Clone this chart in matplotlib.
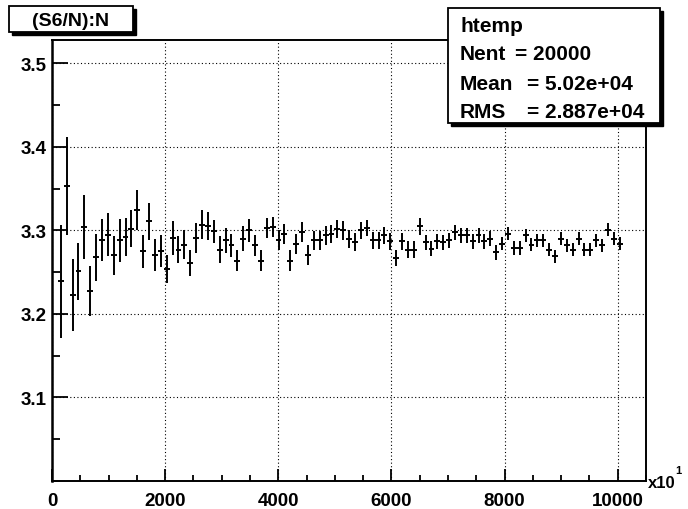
import numpy as np
import matplotlib
matplotlib.use("Agg")
import matplotlib.pyplot as plt
from matplotlib.patches import Rectangle
from matplotlib.ticker import MultipleLocator

plt.rcParams['font.family'] = ['Liberation Sans', 'DejaVu Sans']
plt.rcParams['font.weight'] = 'bold'

# profile bins (N, in units of x10^1)
bin_width = 104
bin_index = np.arange(1, 97)

s6_mean = [3.239, 3.353, 3.223, 3.251, 3.304, 3.228, 3.268, 3.289, 3.295, 3.270,
           3.288, 3.292, 3.302, 3.325, 3.275, 3.311, 3.271, 3.275, 3.254, 3.291,
           3.277, 3.283, 3.261, 3.291, 3.307, 3.305, 3.299, 3.277, 3.288, 3.282,
           3.264, 3.290, 3.300, 3.282, 3.264, 3.303, 3.304, 3.289, 3.296, 3.264,
           3.284, 3.298, 3.271, 3.288, 3.288, 3.294, 3.296, 3.302, 3.300, 3.290,
           3.286, 3.300, 3.303, 3.288, 3.288, 3.294, 3.287, 3.267, 3.287, 3.277,
           3.277, 3.305, 3.286, 3.278, 3.287, 3.286, 3.288, 3.298, 3.294, 3.294,
           3.287, 3.294, 3.287, 3.290, 3.274, 3.284, 3.296, 3.279, 3.279, 3.294,
           3.283, 3.288, 3.288, 3.277, 3.269, 3.290, 3.282, 3.277, 3.290, 3.277,
           3.277, 3.288, 3.282, 3.301, 3.290, 3.284]

s6_err = [0.068, 0.059, 0.043, 0.034, 0.038, 0.030, 0.028, 0.025, 0.026, 0.023,
          0.026, 0.023, 0.022, 0.024, 0.020, 0.022, 0.019, 0.019, 0.017, 0.020,
          0.016, 0.017, 0.016, 0.018, 0.017, 0.017, 0.014, 0.016, 0.015, 0.014,
          0.013, 0.015, 0.014, 0.013, 0.013, 0.012, 0.012, 0.012, 0.012, 0.013,
          0.012, 0.012, 0.012, 0.011, 0.011, 0.011, 0.011, 0.011, 0.011, 0.011,
          0.011, 0.010, 0.010, 0.010, 0.010, 0.010, 0.010, 0.010, 0.010, 0.010,
          0.010, 0.010, 0.009, 0.009, 0.009, 0.009, 0.009, 0.009, 0.009, 0.009,
          0.009, 0.009, 0.009, 0.009, 0.009, 0.008, 0.008, 0.008, 0.008, 0.008,
          0.008, 0.008, 0.008, 0.008, 0.008, 0.008, 0.008, 0.008, 0.008, 0.008,
          0.008, 0.008, 0.008, 0.008, 0.008, 0.008]

x_ticks = [0, 2000, 4000, 6000, 8000, 10000]
y_ticks = [3.1, 3.2, 3.3, 3.4, 3.5]

title = "(S6/N):N"
stats = [("htemp", ""), ("Nent", "= 20000"), ("Mean", "= 5.02e+04"), ("RMS", "= 2.887e+04")]

W, H = 688, 510


def fx(x):
    return x / W


def fy(y):
    return 1 - y / H


fig = plt.figure(figsize=(W / 100, H / 100), dpi=100)
ax = fig.add_axes([fx(52), fy(482), 594 / W, 441 / H])

x = (bin_index + 0.5) * bin_width
ax.errorbar(x, s6_mean, yerr=s6_err, xerr=bin_width / 2, fmt='none',
            ecolor='black', elinewidth=1.4, capsize=0)

ax.set_xlim(0, 10500)
ax.set_ylim(3.0, 3.528)
ax.set_xticks(x_ticks)
ax.set_yticks(y_ticks)
ax.xaxis.set_minor_locator(MultipleLocator(500))
ax.yaxis.set_minor_locator(MultipleLocator(0.05))
ax.set_xticklabels([str(t) for t in x_ticks])
ax.set_yticklabels([f"{t:.1f}" for t in y_ticks])

ax.grid(True, which='major', color='black', linestyle=(0, (1, 2.2)), linewidth=0.8)
ax.tick_params(axis='both', which='both', direction='in', top=False, right=False,
               labelsize=13.5, width=1.3, colors='black')
ax.tick_params(axis='y', which='major', length=11.5, pad=4)
ax.tick_params(axis='y', which='minor', length=5.8)
ax.tick_params(axis='x', which='major', length=8.6, pad=8)
ax.tick_params(axis='x', which='minor', length=4.3)
for lab in ax.get_xticklabels() + ax.get_yticklabels():
    lab.set_fontweight('bold')
for sp in ax.spines.values():
    sp.set_linewidth(1.4)
ax.spines['left'].set_linewidth(1.8)

# x10^1 multiplier
fig.text(fx(648), fy(484), "x10", fontsize=12, fontweight='bold', va='center', ha='left')
fig.text(fx(675), fy(471), "1", fontsize=8, fontweight='bold', va='center', ha='left')


def box(x0, y0, x1, y1, shadow=3):
    fig.add_artist(Rectangle((fx(x0 + shadow), fy(y1 + shadow)), (x1 - x0) / W, (y1 - y0) / H,
                             transform=fig.transFigure, facecolor='black', edgecolor='black',
                             zorder=4))
    fig.add_artist(Rectangle((fx(x0), fy(y1)), (x1 - x0) / W, (y1 - y0) / H,
                             transform=fig.transFigure, facecolor='white', edgecolor='black',
                             linewidth=1.3, zorder=5))


# title box
box(9, 7, 133, 33)
fig.text(fx(71), fy(21), title, fontsize=14, fontweight='bold', ha='center', va='center', zorder=6)

# stats box
box(448, 9, 660, 124)
line_y = [27, 55, 84, 113]
value_x = [None, 515, 527, 527]
for (name, val), yy, vx in zip(stats, line_y, value_x):
    fig.text(fx(460), fy(yy), name, fontsize=15, fontweight='bold', ha='left', va='center', zorder=6)
    if val:
        fig.text(fx(vx), fy(yy), val, fontsize=15, fontweight='bold', ha='left', va='center', zorder=6)

fig.savefig("out.png", dpi=100, facecolor='white')
